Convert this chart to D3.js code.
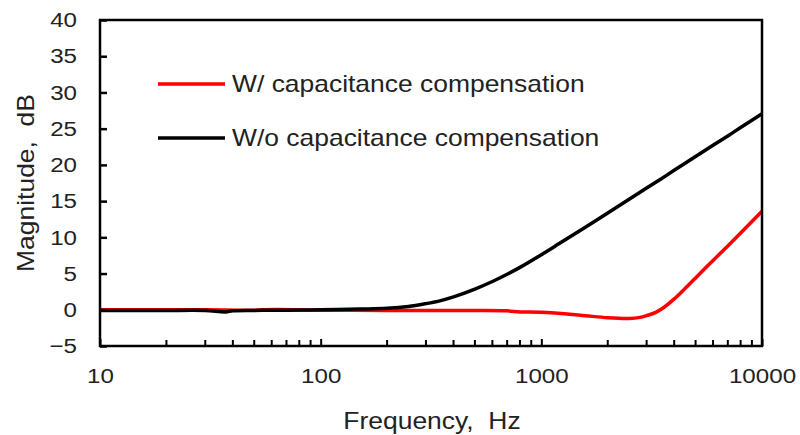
<!doctype html>
<html>
<head>
<meta charset="utf-8">
<title>Magnitude vs Frequency</title>
<style>
  body { margin: 0; background: #fff; }
  text { font-family: "Liberation Sans", Arial, sans-serif; fill: #222; white-space: pre; }
</style>
</head>
<body>
<div id="chart"></div>
<script src="https://d3js.org/d3.v7.min.js"></script>
<script>
// data
var freqW = [10, 20, 30, 50, 63, 100, 200, 300, 500, 700, 800, 1000, 1500, 2000, 2500, 2800, 3000, 3300, 3600, 4000, 4500, 5000, 6000, 7000, 8000, 10000];
var magW = [0, 0, 0, -0.05, 0.05, -0.05, -0.1, -0.1, -0.1, -0.15, -0.3, -0.35, -0.75, -1.1, -1.2, -1.05, -0.8, -0.35, 0.35, 1.5, 3.0, 4.4, 6.8, 8.8, 10.6, 13.6];

var freqWo = [10, 15, 20, 30, 37, 40, 50, 63, 70, 100, 150, 200, 250, 300, 350, 400, 500, 600, 700, 800, 1000, 1200, 1500, 2000, 2500, 3000, 3500, 4000, 5000, 6000, 7000, 8000, 10000];
var magWo = [-0.1, -0.1, -0.1, -0.1, -0.3, -0.15, -0.1, -0.05, -0.05, 0, 0.1, 0.2, 0.45, 0.85, 1.27, 1.78, 2.85, 3.9, 4.9, 5.85, 7.6, 9.1, 10.95, 13.35, 15.25, 16.8, 18.1, 19.25, 21.15, 22.7, 24.0, 25.15, 27.05];

var xTickLabels = [10, 100, 1000, 10000];
var yTickLabels = [-5, 0, 5, 10, 15, 20, 25, 30, 35, 40];

var seriesNames = ["W/ capacitance compensation", "W/o capacitance compensation"];
var seriesColors = ["#ff0000", "#000000"];

var margin = {top: 20, right: 38, bottom: 89, left: 100},
    width = 800 - margin.left - margin.right,
    height = 435 - margin.top - margin.bottom;

// the text in the picture is a bit wider than the font, so stretch it
function stretch(sel, s) {
  sel.each(function () {
    var t = d3.select(this);
    var tx = +t.attr("x") || 0, ty = +t.attr("y") || 0;
    var prev = t.attr("transform") || "";
    t.attr("x", 0).attr("y", 0)
      .attr("transform", prev + " translate(" + tx + "," + ty + ") scale(" + s + ",1)");
  });
}

var svg = d3.select("#chart")
  .append("svg")
    .attr("width", 800)
    .attr("height", 435)
  .append("g")
    .attr("transform", "translate(" + margin.left + "," + margin.top + ")");

var x = d3.scaleLog()
    .domain([10, 10000])
    .range([0, width]);

var y = d3.scaleLinear()
    .domain([-5, 40])
    .range([height, 0]);

// minor ticks on the log axis
var minor = [];
[10, 100, 1000].forEach(function (d) {
  for (var k = 2; k <= 9; k++) minor.push(d * k);
});

svg.append("g")
  .selectAll("line.minor")
  .data(minor)
  .enter()
  .append("line")
    .attr("x1", function (d) { return x(d); })
    .attr("x2", function (d) { return x(d); })
    .attr("y1", height)
    .attr("y2", height - 6)
    .attr("stroke", "#000")
    .attr("stroke-width", 2);

// x axis
var xAxis = svg.append("g")
  .attr("transform", "translate(0," + height + ")")
  .call(d3.axisBottom(x)
    .tickValues(xTickLabels)
    .tickFormat(d3.format("d"))
    .tickSizeInner(-7)
    .tickSizeOuter(0)
    .tickPadding(22));
xAxis.select(".domain").remove();
xAxis.selectAll(".tick line").attr("stroke", "#000").attr("stroke-width", 2);
xAxis.selectAll(".tick text")
  .style("font-size", "21px")
  .attr("fill", "#222")
  .call(stretch, 1.15);

// y axis
var yAxis = svg.append("g")
  .call(d3.axisLeft(y)
    .tickValues(yTickLabels)
    .tickSizeInner(-7)
    .tickSizeOuter(0)
    .tickPadding(23));
yAxis.select(".domain").remove();
yAxis.selectAll(".tick line").attr("stroke", "#000").attr("stroke-width", 2.5);
yAxis.selectAll(".tick text")
  .style("font-size", "21px")
  .attr("fill", "#222")
  .call(stretch, 1.15);

// lines
var line = d3.line()
  .x(function (d) { return x(d[0]); })
  .y(function (d) { return y(d[1]); })
  .curve(d3.curveCatmullRom.alpha(0.5));

var dataW = freqW.map(function (f, i) { return [f, magW[i]]; });
var dataWo = freqWo.map(function (f, i) { return [f, magWo[i]]; });

svg.append("path")
  .datum(dataW)
  .attr("fill", "none")
  .attr("stroke", seriesColors[0])
  .attr("stroke-width", 3.5)
  .attr("d", line);

svg.append("path")
  .datum(dataWo)
  .attr("fill", "none")
  .attr("stroke", seriesColors[1])
  .attr("stroke-width", 3.5)
  .attr("d", line);

// frame
svg.append("rect")
  .attr("x", 0)
  .attr("y", 0)
  .attr("width", width)
  .attr("height", height)
  .attr("fill", "none")
  .attr("stroke", "#000")
  .attr("stroke-width", 2.5);

// legend
var legend = svg.append("g")
  .selectAll("g")
  .data(seriesNames)
  .enter()
  .append("g")
    .attr("transform", function (d, i) { return "translate(58," + (64 + i * 54) + ")"; });

legend.append("line")
  .attr("x1", 0)
  .attr("x2", 67)
  .attr("stroke", function (d, i) { return seriesColors[i]; })
  .attr("stroke-width", 3.5);

legend.append("text")
  .attr("x", 74)
  .attr("y", 8)
  .style("font-size", "23px")
  .text(function (d) { return d; })
  .call(stretch, 1.15);

// axis titles
svg.append("text")
  .attr("x", width / 2 + 1)
  .attr("y", height + 83)
  .attr("text-anchor", "middle")
  .style("font-size", "23px")
  .text("Frequency,  Hz")
  .call(stretch, 1.15);

svg.append("text")
  .attr("transform", "translate(" + (-66) + "," + 163 + ") rotate(-90)")
  .attr("text-anchor", "middle")
  .style("font-size", "23px")
  .text("Magnitude,  dB")
  .call(stretch, 1.15);
</script>
</body>
</html>
